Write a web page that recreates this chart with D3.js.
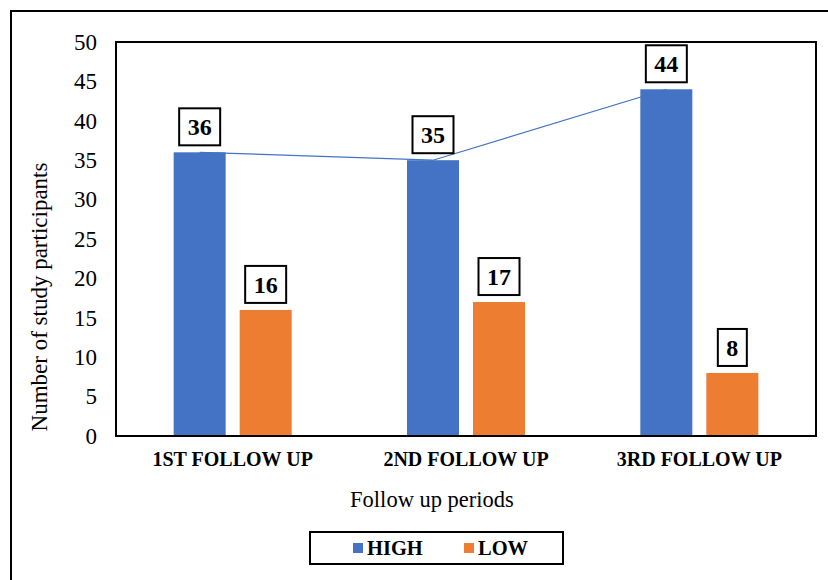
<!DOCTYPE html>
<html>
<head>
<meta charset="utf-8">
<script src="https://cdn.jsdelivr.net/npm/d3@7"></script>
<style>
  html, body { margin: 0; padding: 0; background: #fff; }
  svg { display: block; font-family: "Liberation Serif", "Times New Roman", serif; }
</style>
</head>
<body>
<svg id="chart" width="828" height="580"></svg>
<script>
const categories = ["1ST FOLLOW UP", "2ND FOLLOW UP", "3RD FOLLOW UP"];
const seriesNames = ["HIGH", "LOW"];
const highValues = [36, 35, 44];
const lowValues = [16, 17, 8];
const yTicks = [0, 5, 10, 15, 20, 25, 30, 35, 40, 45, 50];
const colors = { HIGH: "#4472C4", LOW: "#ED7D31" };

const svg = d3.select("#chart");
const plot = { left: 116, top: 42, right: 816, bottom: 436 };

// outer frame
svg.append("rect").attr("x", 11).attr("y", 11).attr("width", 840).attr("height", 600)
  .attr("fill", "none").attr("stroke", "#000").attr("stroke-width", 2);

const x0 = d3.scaleBand().domain(categories).range([plot.left, plot.right]).padding(0);
const groupW = 118;
const x1 = d3.scaleBand().domain(seriesNames).range([0, groupW]).paddingInner(14 / 66).paddingOuter(0);
const y = d3.scaleLinear().domain([0, 50]).range([plot.bottom, plot.top]);

const rows = categories.map((c, i) => ({ cat: c, HIGH: highValues[i], LOW: lowValues[i] }));
const gx = c => x0(c) + (x0.bandwidth() - groupW) / 2;

// y axis labels
const yAxis = d3.axisLeft(y).tickValues(yTicks).tickSize(0).tickPadding(0);
const yg = svg.append("g").attr("transform", `translate(97,0)`).call(yAxis);
yg.select(".domain").remove();
yg.selectAll("text").attr("font-family", "Liberation Serif").attr("font-size", 23).attr("fill", "#000");

// connecting line for HIGH
const line = d3.line().x(d => gx(d.cat) + x1("HIGH") + x1.bandwidth() / 2).y(d => y(d.HIGH));
svg.append("path").datum(rows).attr("d", line).attr("fill", "none")
  .attr("stroke", colors.HIGH).attr("stroke-width", 1.2);

// bars
const groups = svg.selectAll("g.grp").data(rows).join("g").attr("class", "grp")
  .attr("transform", d => `translate(${gx(d.cat)},0)`);
groups.selectAll("rect").data(d => seriesNames.map(s => ({ s, v: d[s] }))).join("rect")
  .attr("x", d => x1(d.s)).attr("width", x1.bandwidth())
  .attr("y", d => y(d.v)).attr("height", d => y(0) - y(d.v))
  .attr("fill", d => colors[d.s]);

// data labels
groups.each(function(d) {
  const g = d3.select(this);
  seriesNames.forEach(s => {
    const cx = x1(s) + x1.bandwidth() / 2;
    const bottom = y(d[s]) - 7;
    const h = 37;
    const t = g.append("text").attr("x", cx).attr("y", bottom - h / 2).attr("dy", "0.35em")
      .attr("text-anchor", "middle").attr("font-weight", "bold").attr("font-size", 24)
      .attr("fill", "#000").text(d[s]);
    const w = t.node().getComputedTextLength() + 17;
    g.insert("rect", "text").attr("x", cx - w / 2).attr("y", bottom - h).attr("width", w).attr("height", h)
      .attr("fill", "#fff").attr("stroke", "#000").attr("stroke-width", 2);
  });
});

// plot border
svg.append("rect").attr("x", plot.left).attr("y", plot.top)
  .attr("width", plot.right - plot.left).attr("height", plot.bottom - plot.top)
  .attr("fill", "none").attr("stroke", "#000").attr("stroke-width", 2);

// category labels
const xAxis = d3.axisBottom(x0).tickSize(0).tickPadding(0);
const xg = svg.append("g").attr("transform", `translate(0,${plot.bottom})`).call(xAxis);
xg.select(".domain").remove();
xg.selectAll("text").attr("font-family", "Liberation Serif").attr("font-size", 20)
  .attr("font-weight", "bold").attr("fill", "#000").attr("dy", null).attr("y", 30);

// axis titles
svg.append("text").attr("x", 432).attr("y", 507)
  .attr("text-anchor", "middle").attr("font-size", 22.5).attr("fill", "#000").text("Follow up periods");
svg.append("text").attr("transform", "translate(47,297) rotate(-90)")
  .attr("text-anchor", "middle").attr("font-size", 23).attr("fill", "#000").text("Number of study participants");

// legend
svg.append("rect").attr("x", 310).attr("y", 532).attr("width", 253).attr("height", 32)
  .attr("fill", "#fff").attr("stroke", "#000").attr("stroke-width", 2);
const legX = { HIGH: 353, LOW: 464 };
seriesNames.forEach(s => {
  svg.append("rect").attr("x", legX[s]).attr("y", 543).attr("width", 10).attr("height", 10).attr("fill", colors[s]);
  svg.append("text").attr("x", legX[s] + 14).attr("y", 555).attr("font-size", 20.5).attr("font-weight", "bold")
    .attr("fill", "#000").text(s);
});
</script>
</body>
</html>
